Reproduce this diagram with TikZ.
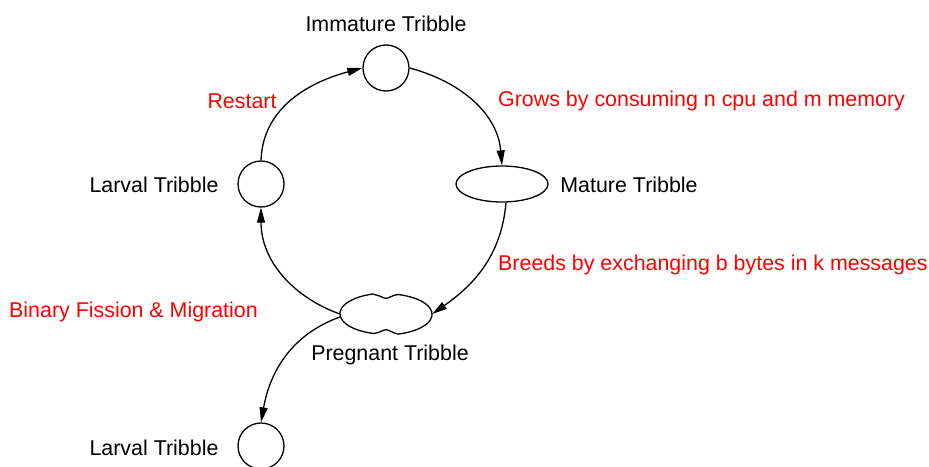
\documentclass[tikz,border=0pt]{standalone}
\usepackage{fontspec}
\setmainfont{Liberation Sans}
\usetikzlibrary{shapes.geometric,arrows.meta}
\begin{document}
\begin{tikzpicture}[x=1pt,y=1pt,
  every node/.style={font=\fontsize{21.4}{25}\selectfont},
  state/.style={circle,draw,line width=1.3pt,minimum size=46pt,inner sep=0pt},
  oval/.style={ellipse,draw,line width=1.3pt,minimum width=92pt,minimum height=36pt,inner sep=0pt},
  lbl/.style={text=black,inner sep=0pt},
  red/.style={text=red,inner sep=0pt},
  conn/.style={line width=1.3pt,-{Triangle[length=15pt,width=8pt]}}]
\useasboundingbox (0,0) rectangle (929,-466);
% nodes
\node[state] (imm) at (386,-68) {};
\node[state] (lar) at (261,-184) {};
\node[oval] (mat) at (502,-184) {};
\node[ellipse,minimum width=92pt,minimum height=41pt,inner sep=0pt] (preg) at (386,-314) {};
\node[state] (lar2) at (261,-446) {};
\coordinate (ms) at ([xshift=4pt]mat.south);
% pregnant tribble outline with notches
\draw[line width=1.3pt]
  (374,-294.5) .. controls (380,-295.2) and (383,-298.3) .. (386,-298.3)
  .. controls (389,-298.3) and (392,-295.2) .. (398,-294.5)
  arc[start angle=75,end angle=-75,x radius=46,y radius=20.5]
  .. controls (392,-332.8) and (389,-329.7) .. (386,-329.7)
  .. controls (383,-329.7) and (380,-332.8) .. (374,-333.5)
  arc[start angle=255,end angle=105,x radius=46,y radius=20.5];
% labels
\node[lbl] (limm) at (386,-24) {Immature Tribble};
\node[lbl] (llar) at (154,-185) {Larval Tribble};
\node[lbl] (lmat) at (629,-185) {Mature Tribble};
\node[lbl] (lpreg) at (390,-355) {Pregnant Tribble};
\node[lbl] (llar2) at (154,-448) {Larval Tribble};
\node[red] (rrest) at (242,-101) {Restart};
\node[red,anchor=west] (rgrow) at (498,-101) {Grows by consuming n cpu and m memory};
\node[red,anchor=west] (rbreed) at (498,-265) {Breeds by exchanging b bytes in k messages};
\node[red,anchor=west] (rbin) at (9,-312) {Binary Fission \& Migration};
% connectors
\draw[conn] (lar.north) to[out=88,in=195] (imm.west);
\draw[conn] (imm.east) to[out=-15,in=95] (mat.north);
\draw[conn] (ms) to[out=-95,in=35] (preg.east);
\draw[conn] (preg.west) to[out=160,in=-90] (lar.south);
\draw[conn] ([yshift=-3pt]preg.west) to[out=200,in=80] (lar2.north);
\end{tikzpicture}
\end{document}
